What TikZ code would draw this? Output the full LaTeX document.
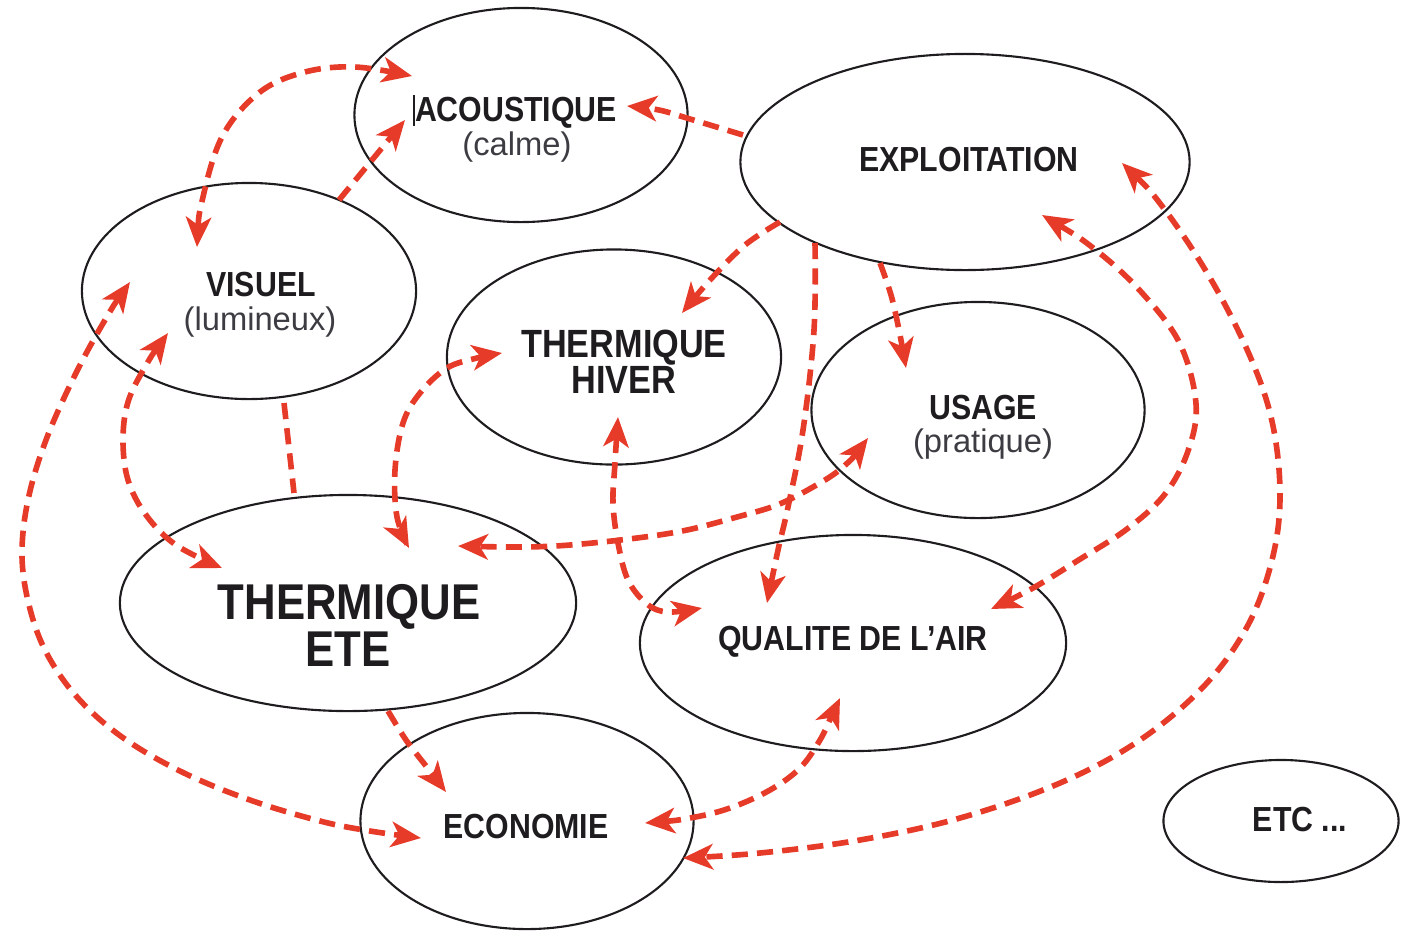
\documentclass[tikz,border=0pt]{standalone}
\usepackage{fontspec}
\setmainfont{Liberation Sans}[FakeStretch=0.87]
\newfontfamily\lcfont{Liberation Sans}
\usetikzlibrary{shapes.geometric,arrows.meta}
\definecolor{linkred}{RGB}{231,59,42}
\definecolor{inkdark}{RGB}{30,28,30}
\definecolor{softgray}{RGB}{60,60,66}
\tikzset{
  bubble/.style={ellipse, draw=inkdark, line width=0.6pt, inner sep=0pt},
  lab/.style={anchor=base, inner sep=0pt, text=inkdark, font=\bfseries\fontsize{9.9}{12}\selectfont},
  labmid/.style={lab, font=\bfseries\fontsize{11.2}{13}\selectfont},
  labbig/.style={lab, font=\bfseries\fontsize{14.3}{16}\selectfont},
  sub/.style={anchor=base, inner sep=0pt, text=softgray, font=\lcfont\fontsize{9.3}{11}\selectfont},
  link/.style={draw=linkred, line width=1.6pt, dash pattern=on 4.6pt off 2.6pt,
    >={Stealth[length=8.5pt,width=7.2pt,inset=2.3pt]}},
  curve/.style={smooth, tension=0.6}
}
\begin{document}
\begin{tikzpicture}[x=0.01cm,y=-0.01cm]
\useasboundingbox (0,0) rectangle (1404,930);

% ellipses
\node[bubble, minimum width=3.33cm, minimum height=2.14cm] (acou) at (521,115) {};
\node[bubble, minimum width=3.34cm, minimum height=2.16cm] (vis)  at (249,291) {};
\node[bubble, minimum width=4.49cm, minimum height=2.16cm] (expl) at (965,162) {};
\node[bubble, minimum width=3.34cm, minimum height=2.15cm] (hiv)  at (614,357) {};
\node[bubble, minimum width=3.33cm, minimum height=2.16cm] (usa)  at (978,410) {};
\node[bubble, minimum width=4.56cm, minimum height=2.16cm] (ete)  at (348,603) {};
\node[bubble, minimum width=4.26cm, minimum height=2.16cm] (qua)  at (853,643) {};
\node[bubble, minimum width=3.33cm, minimum height=2.16cm] (eco)  at (527,821) {};
\node[bubble, minimum width=2.35cm, minimum height=1.22cm] (etc)  at (1281,821) {};

% labels
\node[lab] (acouT) at (516,121) {ACOUSTIQUE};
\node[sub] (acouS) at (517,155) {(calme)};
\draw[inkdark, line width=0.4pt] (414,95) -- (414,126);
\node[lab] (visT) at (261,296) {VISUEL};
\node[sub] (visS) at (260,330) {(lumineux)};
\node[lab] (explT) at (969,171) {EXPLOITATION};
\node[labmid] (hivT1) at (624,357) {THERMIQUE};
\node[labmid] (hivT2) at (624,393) {HIVER};
\node[lab] (usaT) at (983,419) {USAGE};
\node[sub] (usaS) at (983,452) {(pratique)};
\node[labbig] (eteT1) at (349,619) {THERMIQUE};
\node[labbig] (eteT2) at (348,666) {ETE};
\node[lab] (quaT) at (853,650) {QUALITE DE L'AIR};
\node[lab] (ecoT) at (526,838) {ECONOMIE};
\node[lab] (etcT) at (1300,831) {ETC ...};

% connector end points
\coordinate (a1) at (197,247);  \coordinate (a2) at (412,76);
\coordinate (b1) at (339,200);  \coordinate (b2) at (405,120);
\coordinate (c1) at (743,135);  \coordinate (c2) at (627,106);
\coordinate (d1) at (780,222);  \coordinate (d2) at (682,313);
\coordinate (e1) at (815,243);  \coordinate (e2) at (767,603);
\coordinate (f1) at (880,263);  \coordinate (f2) at (906,368);
\coordinate (g1) at (1042,215); \coordinate (g2) at (991,609);
\coordinate (h1) at (1122,163); \coordinate (h2) at (683,858);
\coordinate (i1) at (130,282);  \coordinate (i2) at (421,838);
\coordinate (j1) at (168,333);  \coordinate (j2) at (222,568);
\coordinate (k1) at (284,403);  \coordinate (k2) at (294,493);
\coordinate (l1) at (502,353);  \coordinate (l2) at (409,548);
\coordinate (m1) at (868,438);  \coordinate (m2) at (458,546);
\coordinate (n1) at (618,417);  \coordinate (n2) at (702,608);
\coordinate (o1) at (388,711);  \coordinate (o2) at (446,792);
\coordinate (p1) at (645,823);  \coordinate (p2) at (840,698);

% connectors
\draw[link,<->] plot[curve] coordinates {(a1) (203,197) (223,135) (260,92) (305,72) (355,67) (a2)};
\draw[link,->] (b1) -- (b2);
\draw[link,->] plot[curve] coordinates {(c1) (690,119) (659,110) (c2)};
\draw[link,->] plot[curve] coordinates {(d1) (745,245) (710,280) (d2)};
\draw[link,->] plot[curve] coordinates {(e1) (814,330) (803,430) (788,507) (778,550) (e2)};
\draw[link,->] plot[curve] coordinates {(f1) (891,295) (899,330) (f2)};
\draw[link,<->] plot[curve] coordinates {(g1) (1097,251) (1143,294) (1180,344) (1196,404) (1188,451) (1165,494) (1127,529) (1077,561) (1033,588) (g2)};
\draw[link,<->] plot[curve] coordinates {(h1) (1165,210) (1213,283) (1252,361) (1273,426) (1280,497) (1272,560) (1248,625) (1205,685) (1140,740) (1060,783) (960,818) (860,840) (760,853) (h2)};
\draw[link,<->] plot[curve] coordinates {(i1) (105,320) (75,375) (46,440) (28,500) (22,555) (29,605) (46,652) (77,697) (122,737) (182,772) (250,800) (320,821) (370,831) (i2)};
\draw[link,<->] plot[curve] coordinates {(j1) (145,367) (128,402) (123,440) (128,480) (146,515) (176,545) (j2)};
\draw[link] (k1) -- (k2);
\draw[link,<->] plot[curve] coordinates {(l1) (477,358) (447,368) (420,393) (403,423) (395,470) (397,517) (l2)};
\draw[link,<->] plot[curve] coordinates {(m1) (843,467) (813,487) (777,505) (737,517) (687,530) (637,538) (570,545) (520,547) (m2)};
\draw[link,<->] plot[curve] coordinates {(n1) (615,463) (613,503) (618,543) (628,580) (647,604) (668,612) (n2)};
\draw[link,->] plot[curve] coordinates {(o1) (406,740) (426,766) (o2)};
\draw[link,<->] plot[curve] coordinates {(p1) (690,818) (730,808) (770,790) (800,768) (820,740) (832,715) (p2)};
\end{tikzpicture}
\end{document}
